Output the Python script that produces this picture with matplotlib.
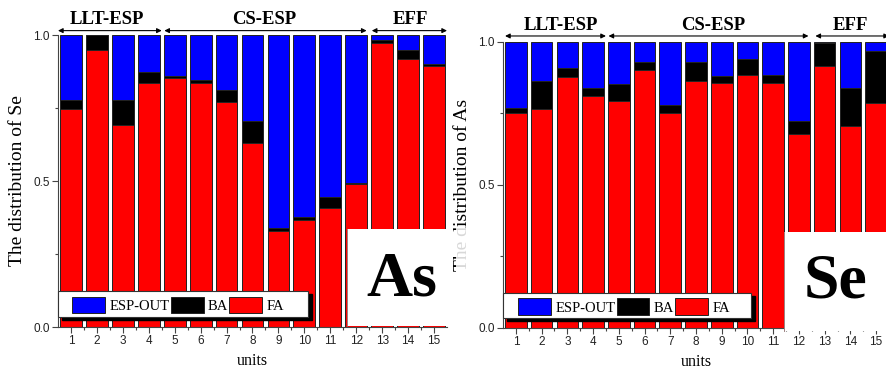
import numpy as np
import matplotlib
matplotlib.use('Agg')
from matplotlib import pyplot as plt
from matplotlib.patches import Rectangle

units = np.arange(1, 16)

# left panel (Se)
se_fa = [0.745, 0.948, 0.692, 0.836, 0.853, 0.836, 0.770, 0.629, 0.328, 0.368, 0.406, 0.489, 0.974, 0.917, 0.894]
se_ba = [0.031, 0.052, 0.084, 0.038, 0.005, 0.009, 0.040, 0.078, 0.011, 0.009, 0.039, 0.005, 0.009, 0.031, 0.006]

# right panel (As)
as_fa = [0.750, 0.765, 0.876, 0.811, 0.793, 0.901, 0.752, 0.863, 0.857, 0.884, 0.857, 0.677, 0.916, 0.705, 0.787]
as_ba = [0.017, 0.098, 0.031, 0.028, 0.059, 0.029, 0.027, 0.067, 0.023, 0.054, 0.027, 0.047, 0.078, 0.134, 0.181]

groups = ['LLT-ESP', 'CS-ESP', 'EFF']
legend_labels = ['ESP-OUT', 'BA', 'FA']

W, H = 887, 372
fig = plt.figure(figsize=(W / 100, H / 100), dpi=100)
serif = 'Liberation Serif'
sans = 'Liberation Sans'


def px(x, y):
    return x / W, 1 - y / H


def panel(rect, fa, ba, ylabel, spans, label_x, arrow_y, text_y, leg_anchor, frame):
    ax = fig.add_axes(rect)
    fa = np.array(fa)
    ba = np.array(ba)
    out = 1 - fa - ba
    kw = dict(width=0.84, edgecolor='#222222', linewidth=0.7)
    b1 = ax.bar(units, out, bottom=fa + ba, color='#0000ff', **kw)
    b2 = ax.bar(units, ba, bottom=fa, color='#000000', **kw)
    b3 = ax.bar(units, fa, color='#ff0000', **kw)
    ax.set_xlim(0.5, 15.5)
    ax.set_ylim(0, 1)
    for s in ['top', 'right']:
        ax.spines[s].set_visible(False)
    for s in ['left', 'bottom']:
        ax.spines[s].set_color('#444444')
        ax.spines[s].set_linewidth(0.8)
    ax.set_xticks(units)
    ax.set_xticks(np.arange(1.5, 15.5, 1), minor=True)
    ax.set_yticks([0, 0.5, 1.0])
    ax.set_yticklabels(['0.0', '0.5', '1.0'])
    ax.set_yticks([0.25, 0.75], minor=True)
    ax.tick_params(which='major', length=4, width=0.8, color='#444444', labelsize=8.5, pad=2)
    ax.tick_params(which='minor', length=2, width=0.8, color='#444444')
    for t in ax.get_xticklabels() + ax.get_yticklabels():
        t.set_fontfamily(sans)
        t.set_color('#222222')
    ax.set_xlabel('units', fontfamily=serif, fontsize=11.5, labelpad=4)
    ax.set_ylabel(ylabel, fontfamily=serif, fontsize=14, labelpad=5)
    for g, (x0, x1), tx in zip(groups, spans, label_x):
        ax.annotate('', xy=(x1, arrow_y), xytext=(x0, arrow_y), xycoords=('data', 'axes fraction'),
                    arrowprops=dict(arrowstyle='<|-|>', color='k', lw=0.8, shrinkA=0, shrinkB=0,
                                    mutation_scale=7), annotation_clip=False)
        ax.text(tx, text_y, g, transform=ax.get_xaxis_transform(), ha='center', va='center',
                fontfamily=serif, fontweight='bold', fontsize=13.5)

    # legend box with a hard black shadow, drawn by hand
    fx0, fy0, fx1, fy1 = frame
    bb = ax.get_position()
    dx = 4 / (bb.width * W)
    dy = 3 / (bb.height * H)
    ax.add_patch(Rectangle((fx0 + dx, fy0 - dy), fx1 - fx0, fy1 - fy0, transform=ax.transAxes,
                           facecolor='k', edgecolor='k', zorder=4, clip_on=False))
    ax.add_patch(Rectangle((fx0, fy0), fx1 - fx0, fy1 - fy0, transform=ax.transAxes,
                           facecolor='white', edgecolor='#333333', lw=0.8, zorder=4.5, clip_on=False))
    ax.legend([b1, b2, b3], legend_labels, loc='center left', bbox_to_anchor=leg_anchor,
              ncol=3, frameon=False, handlelength=2.26, handleheight=1.4,
              handletextpad=0.28, columnspacing=0.08, borderpad=0, borderaxespad=0,
              prop={'family': serif, 'size': 10.5}).set_zorder(5)
    return ax


ax1 = panel([58 / W, 1 - 327 / H, 389 / W, 292 / H], se_fa, se_ba, 'The distribution of Se',
            [(0.5, 4.5), (4.6, 12.4), (12.6, 15.5)], [2.4, 8.45, 14.1], 1.015, 1.052,
            (0.037, 0.0753), (0.0, 0.034, 0.643, 0.123))
ax2 = panel([503 / W, 1 - 327.7 / H, 386 / W, 286 / H], as_fa, as_ba, 'The distribution of As',
            [(0.58, 4.5), (4.6, 12.37), (12.64, 15.5)], [2.76, 8.65, 14.0], 1.02, 1.058,
            (0.0397, 0.0734), (0.001, 0.033, 0.642, 0.120))

# white boxes with element names
for (x0, y0, x1, y1), name, (cx, cy) in [((347, 229, 452, 325.5), 'As', (402, 281)),
                                         ((784, 231.5, 890, 331), 'Se', (836, 283))]:
    r = Rectangle(px(x0, y1), (x1 - x0) / W, (y1 - y0) / H, transform=fig.transFigure,
                  facecolor='white', edgecolor='none', zorder=5)
    fig.patches.append(r)
    fig.add_artist(plt.Line2D([x0 / W, x0 / W], [1 - y1 / H, 1 - y0 / H], color='#8a6a6a',
                              lw=0.6, transform=fig.transFigure, zorder=6))
    fig.text(*px(cx, cy), name, ha='center', va='center', fontfamily=serif, fontweight='bold',
             fontsize=46, zorder=7)

# the start of the right y label is faded out in the original
fig.patches.append(Rectangle(px(456, 278), 28 / W, 50 / H, transform=fig.transFigure,
                             facecolor='white', edgecolor='none', alpha=0.85, zorder=5))

fig.savefig('out.png', dpi=100)
